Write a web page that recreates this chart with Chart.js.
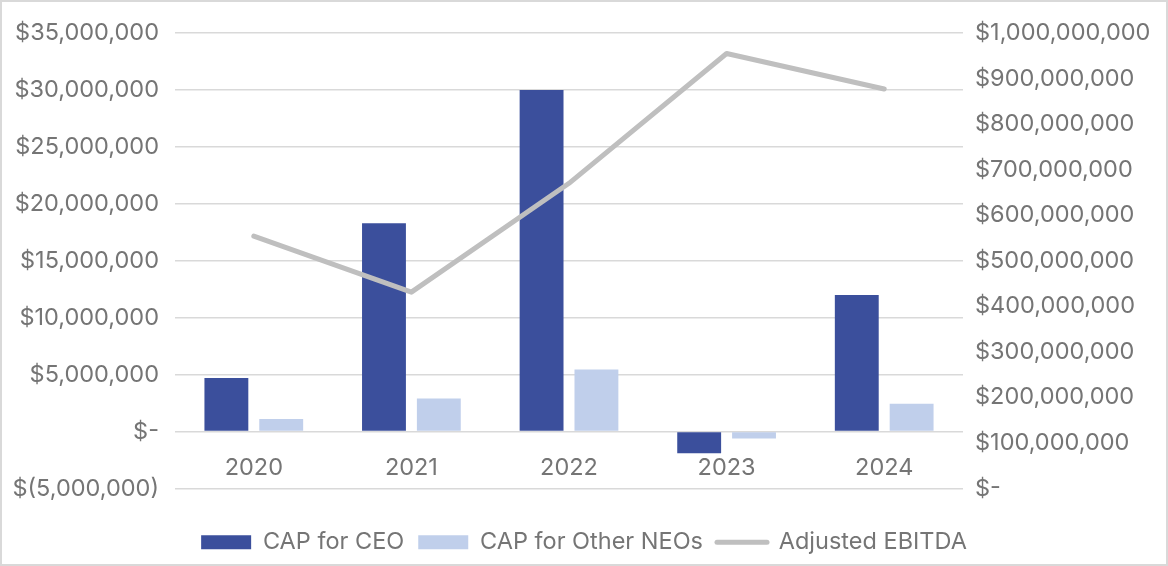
<!DOCTYPE html>
<html>
<head>
<meta charset="utf-8">
<script src="https://cdn.jsdelivr.net/npm/chart.js@4"></script>
<style>
  html, body { margin: 0; padding: 0; background: #fff; }
  #wrap { width: 1168px; height: 566px; position: relative; }
  canvas { display: block; }
</style>
</head>
<body>
<div id="wrap"><canvas id="capChart" width="1168" height="566"></canvas></div>
<script>
// values
const years = ["2020", "2021", "2022", "2023", "2024"];
const capCeo = [4700000, 18300000, 30000000, -1900000, 12000000];
const capNeo = [1100000, 2900000, 5450000, -600000, 2450000];
const adjEbitda = [554000000, 431000000, 670000000, 955000000, 877000000];

const gray = "#757575";
const font = { family: "Inter", size: 23.5 };

function money(v) {
  if (v === 0) return "$-";
  const s = Math.abs(v).toLocaleString("en-US");
  return v < 0 ? "$(" + s + ")" : "$" + s;
}

// outer frame + category labels sitting just under the zero line
const extras = {
  id: "extras",
  beforeDraw(chart) {
    const ctx = chart.ctx;
    ctx.save();
    ctx.strokeStyle = "#d9d9d9";
    ctx.lineWidth = 2;
    ctx.strokeRect(1, 1, chart.width - 2, chart.height - 2);
    ctx.restore();
  },
  afterDatasetsDraw(chart) {
    const ctx = chart.ctx, x = chart.scales.x, y = chart.scales.y;
    ctx.save();
    ctx.font = font.size + "px " + font.family;
    ctx.fillStyle = gray;
    ctx.textAlign = "center";
    ctx.textBaseline = "middle";
    years.forEach((yr, i) => ctx.fillText(yr, x.getPixelForValue(i), y.getPixelForValue(-3200000)));
    ctx.restore();
  }
};

new Chart(document.getElementById("capChart"), {
  type: "bar",
  data: {
    labels: years,
    datasets: [
      { label: "CAP for CEO", data: capCeo, backgroundColor: "#3b4f9c", yAxisID: "y", order: 2,
        categoryPercentage: 0.696, barPercentage: 0.8 },
      { label: "CAP for Other NEOs", data: capNeo, backgroundColor: "#c0cfeb", yAxisID: "y", order: 2,
        categoryPercentage: 0.696, barPercentage: 0.8 },
      { type: "line", label: "Adjusted EBITDA", data: adjEbitda, yAxisID: "y1", order: 1,
        borderColor: "#bfbfbf", backgroundColor: "#bfbfbf", borderWidth: 5,
        borderCapStyle: "round", borderJoinStyle: "round", pointRadius: 0, tension: 0 }
    ]
  },
  options: {
    responsive: false,
    animation: false,
    devicePixelRatio: 1,
    layout: { padding: { top: 33, bottom: 2 } },
    plugins: {
      tooltip: { enabled: false },
      legend: {
        position: "bottom",
        labels: {
          font: font, color: gray, usePointStyle: true, pointStyleWidth: 50, boxHeight: 14, padding: 14,
          generateLabels(chart) {
            return Chart.defaults.plugins.legend.labels.generateLabels(chart)
              .sort((a, b) => a.datasetIndex - b.datasetIndex)
              .map(l => Object.assign(l, {
                pointStyle: l.datasetIndex === 2 ? "line" : "rect",
                lineWidth: l.datasetIndex === 2 ? 5 : 0,
                lineCap: "round"
              }));
          }
        }
      }
    },
    scales: {
      x: {
        ticks: { display: false },
        grid: { display: false },
        border: { display: false },
        afterFit(s) { s.height = 28; }
      },
      y: {
        position: "left",
        min: -5000000, max: 35000000,
        ticks: { stepSize: 5000000, color: gray, font: font, padding: 16, callback: v => money(v) },
        grid: { color: "#d9d9d9", lineWidth: 1.5, drawTicks: false },
        border: { display: false },
        afterFit(s) { s.width = 175; }
      },
      y1: {
        position: "right",
        min: 0, max: 1000000000,
        ticks: { stepSize: 100000000, color: gray, font: font, padding: 12, callback: v => money(v) },
        grid: { display: false, drawTicks: false },
        border: { display: false },
        afterFit(s) { s.width = 205; }
      }
    }
  },
  plugins: [extras]
});
</script>
</body>
</html>
